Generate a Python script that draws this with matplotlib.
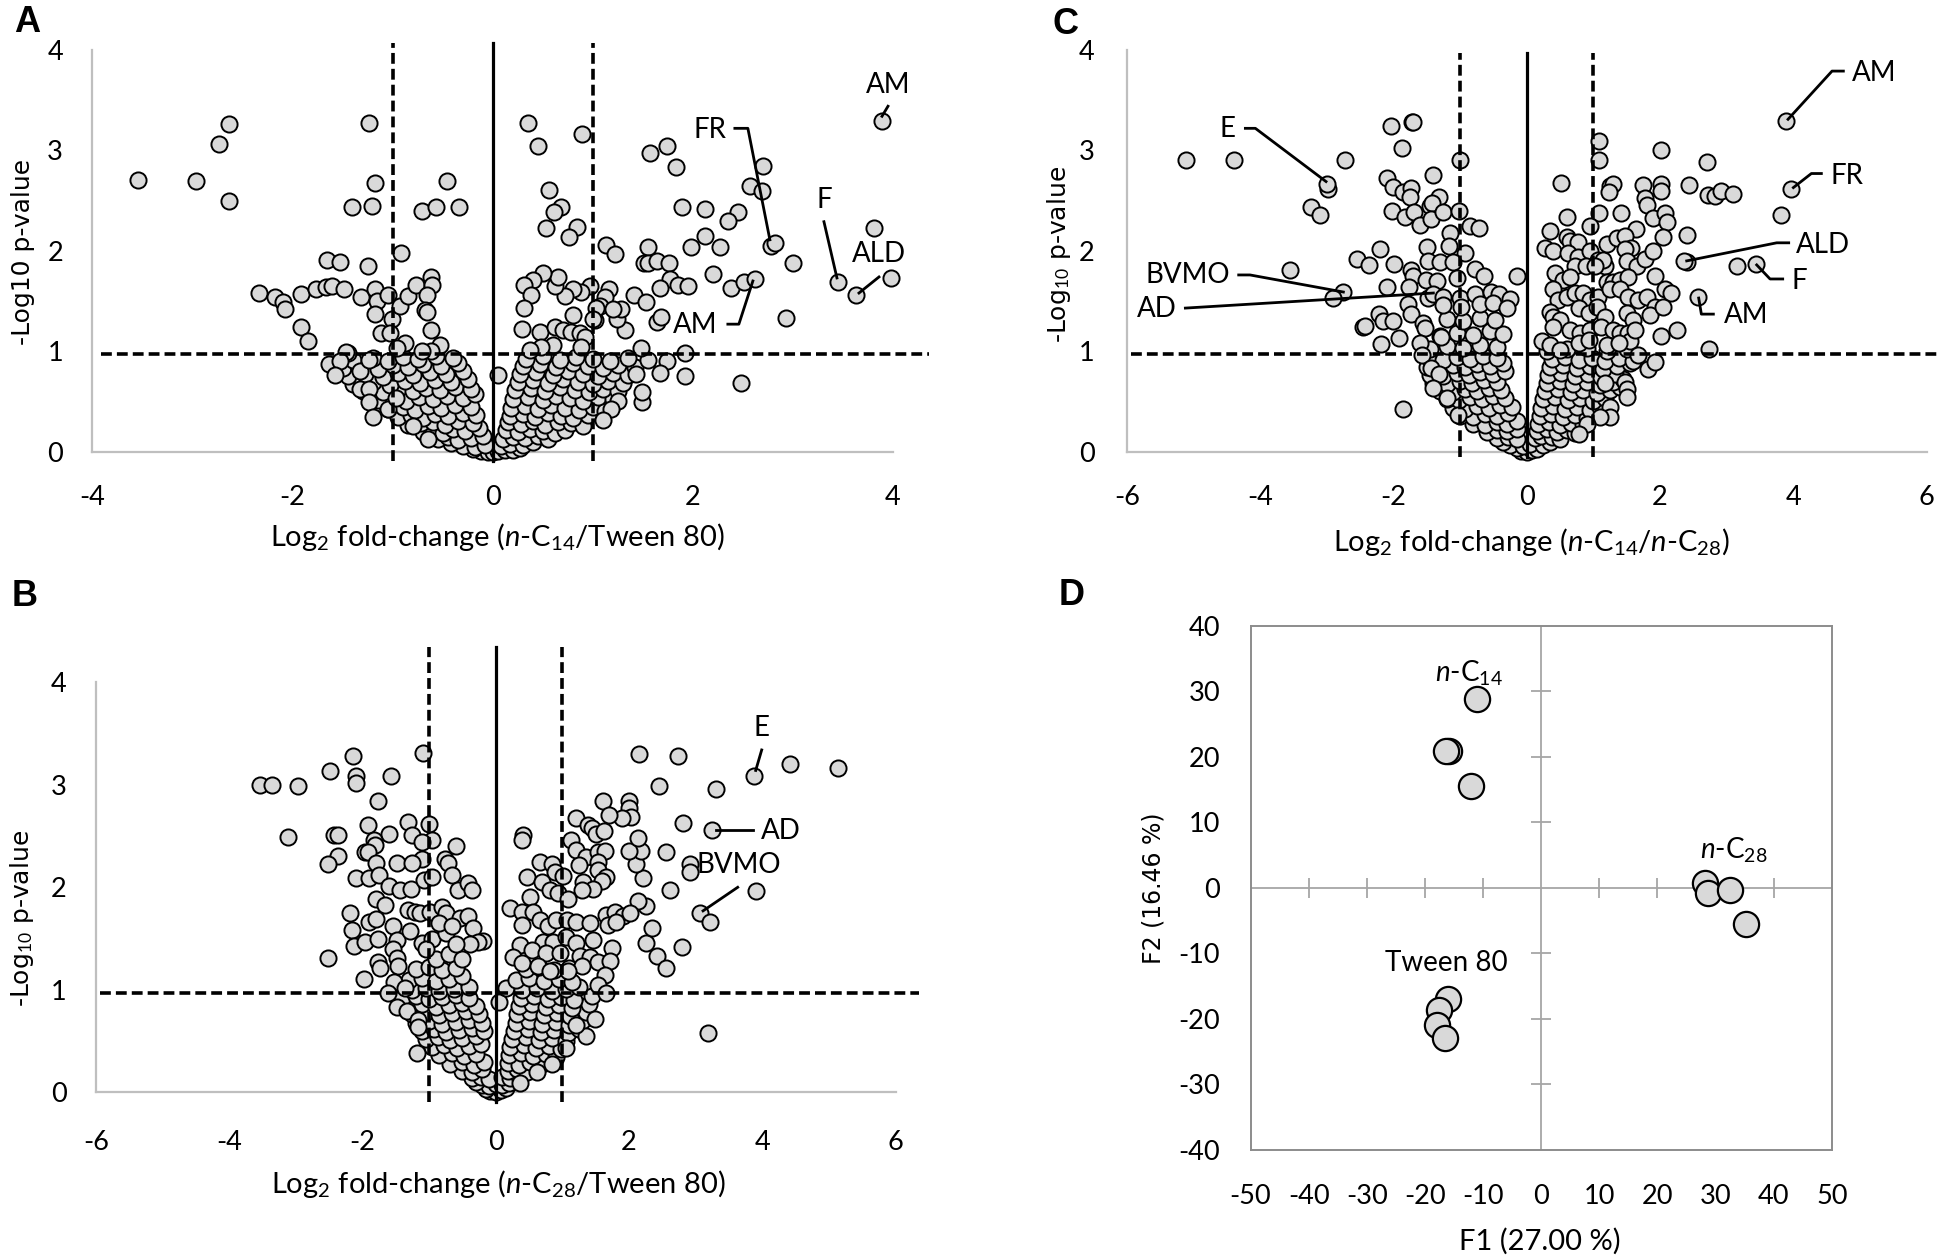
import numpy as np
import matplotlib
matplotlib.use("Agg")
import matplotlib.pyplot as plt

plt.rcParams["font.family"] = ["Lato", "DejaVu Sans"]
plt.rcParams["mathtext.fontset"] = "custom"
plt.rcParams["mathtext.rm"] = "Lato"
plt.rcParams["mathtext.it"] = "Lato:italic"
plt.rcParams["mathtext.bf"] = "Lato:bold"
plt.rcParams["axes.unicode_minus"] = False

# ---------------- panel A : n-C14 / Tween 80 ----------------
a_outer = [
    (-3.54, 2.71), (-2.96, 2.70), (-2.63, 3.26), (-2.73, 3.06), (-2.63, 2.50),
    (-1.24, 3.27), (-1.18, 2.68), (-1.41, 2.44), (-1.21, 2.45), (-0.46, 2.70),
    (-0.71, 2.40), (-0.57, 2.44), (-0.34, 2.44), (-0.92, 1.98), (-1.66, 1.91),
    (-1.53, 1.89), (-1.25, 1.85), (-2.33, 1.58), (-2.17, 1.54), (-2.09, 1.49),
    (-2.07, 1.42), (-1.91, 1.57), (-1.76, 1.62), (-1.67, 1.64), (-1.61, 1.65),
    (-1.49, 1.62), (-1.32, 1.54), (-1.18, 1.62), (-1.16, 1.50), (-1.18, 1.37),
    (-1.05, 1.56), (-1.01, 1.32), (-1.12, 1.18), (-1.03, 1.18), (-1.91, 1.24),
    (-1.84, 1.10), (-0.93, 1.45), (-0.85, 1.55), (-0.77, 1.66), (-0.62, 1.74),
    (-0.61, 1.66), (-0.66, 1.56), (-0.68, 1.41), (-0.66, 1.39), (-0.62, 1.21),
    (-0.88, 1.08), (-0.53, 1.06), (-1.45, 0.98), (-1.47, 0.99), (-1.64, 0.87),
    (-1.53, 0.90), (-1.58, 0.76), (-1.33, 0.80), (-1.24, 0.91), (-1.33, 0.62),
    (-1.24, 0.62), (-1.24, 0.49), (-1.20, 0.35), (-1.05, 0.43), (-0.97, 0.53),
    (-0.65, 0.13), (-0.80, 0.26), (-0.62, 1.00), (-0.71, 1.00), (-0.96, 1.03),
    (3.89, 3.29), (0.35, 3.27), (0.45, 3.04), (0.89, 3.16), (0.56, 2.61),
    (0.68, 2.44), (0.61, 2.39), (0.53, 2.23), (0.84, 2.24), (0.76, 2.14),
    (1.57, 2.97), (1.74, 3.04), (1.83, 2.83), (2.70, 2.84), (2.57, 2.65),
    (2.69, 2.60), (1.89, 2.44), (2.12, 2.42), (2.45, 2.39), (2.35, 2.30),
    (2.12, 2.15), (1.98, 2.04), (2.27, 2.04), (3.81, 2.23), (2.78, 2.05),
    (2.82, 2.08), (3.00, 1.88), (1.55, 2.04), (1.51, 1.88), (1.55, 1.88),
    (1.64, 1.90), (1.76, 1.88), (1.13, 2.06), (1.22, 1.97), (2.20, 1.77),
    (1.77, 1.72), (1.85, 1.66), (1.95, 1.65), (1.67, 1.63), (2.38, 1.63),
    (2.51, 1.69), (2.62, 1.72), (3.45, 1.69), (3.63, 1.56), (3.98, 1.73),
    (2.93, 1.33), (1.64, 1.29), (1.68, 1.34), (1.41, 1.56), (1.53, 1.49),
    (2.48, 0.68), (1.92, 0.75), (1.92, 0.98), (1.74, 0.90), (1.67, 0.78),
    (1.48, 1.03), (1.49, 0.49), (1.49, 0.59), (1.43, 0.77), (1.25, 0.50),
    (1.18, 0.43), (1.10, 0.32), (1.32, 1.21), (1.24, 1.32), (1.28, 1.42),
    (1.16, 1.62), (1.12, 1.54), (1.07, 1.45), (1.02, 1.31), (0.97, 1.65),
    (0.88, 1.59), (0.80, 1.62), (0.72, 1.55), (0.62, 1.65), (0.65, 1.74),
    (0.50, 1.78), (0.40, 1.71), (0.31, 1.66), (0.38, 1.56), (0.31, 1.43),
    (0.29, 1.22), (0.47, 1.19), (0.62, 1.24), (0.70, 1.21), (0.78, 1.19),
    (0.87, 1.18), (0.92, 1.14), (0.80, 1.36), (0.88, 1.04), (0.60, 1.06),
    (0.48, 1.04), (0.37, 1.01), (1.03, 1.43), (1.00, 1.32), (1.20, 1.42),
]
a_core = [
    (-0.12, 0.01), (-0.05, 0.0), (0.0, 0.0), (0.05, 0.01), (0.12, 0.02), (0.2, 0.02),
    (-0.2, 0.03), (0.27, 0.04),
    (-0.3, 0.06), (-0.18, 0.05), (-0.08, 0.07), (0.08, 0.06), (0.17, 0.08), (0.3, 0.07),
    (-0.42, 0.09), (0.4, 0.1),
    (-0.55, 0.13), (-0.45, 0.15), (-0.35, 0.12), (-0.22, 0.14), (-0.1, 0.16), (0.1, 0.13),
    (0.2, 0.15), (0.32, 0.14), (0.45, 0.16), (0.55, 0.13),
    (-0.7, 0.2), (-0.6, 0.22), (-0.5, 0.19), (-0.4, 0.23), (-0.28, 0.21), (-0.14, 0.24),
    (0.13, 0.22), (0.25, 0.2), (0.37, 0.23), (0.5, 0.21), (0.62, 0.19), (0.72, 0.22),
    (-0.85, 0.27), (-0.72, 0.29), (-0.6, 0.3), (-0.48, 0.27), (-0.35, 0.31), (-0.2, 0.29),
    (0.15, 0.3), (0.28, 0.28), (0.4, 0.31), (0.52, 0.27), (0.65, 0.3), (0.78, 0.29), (0.9, 0.26),
    (-0.95, 0.35), (-0.82, 0.37), (-0.7, 0.34), (-0.58, 0.38), (-0.45, 0.36), (-0.3, 0.39),
    (-0.17, 0.37), (0.17, 0.36), (0.3, 0.38), (0.42, 0.35), (0.55, 0.39), (0.68, 0.36),
    (0.8, 0.34), (0.95, 0.37),
    (-1.05, 0.43), (-0.9, 0.45), (-0.78, 0.42), (-0.65, 0.46), (-0.52, 0.44), (-0.38, 0.47),
    (-0.22, 0.45), (0.18, 0.44), (0.32, 0.46), (0.45, 0.43), (0.58, 0.47), (0.72, 0.44),
    (0.86, 0.42), (1.0, 0.45), (1.12, 0.41),
    (-1.15, 0.51), (-1.0, 0.53), (-0.87, 0.5), (-0.74, 0.54), (-0.6, 0.52), (-0.46, 0.55),
    (-0.3, 0.53), (-0.18, 0.57), (0.2, 0.52), (0.35, 0.54), (0.5, 0.51), (0.63, 0.55),
    (0.77, 0.53), (0.9, 0.5), (1.05, 0.54), (1.2, 0.52),
    (-1.3, 0.6), (-1.1, 0.59), (-0.95, 0.62), (-0.8, 0.6), (-0.67, 0.63), (-0.53, 0.61),
    (-0.38, 0.64), (-0.22, 0.62), (0.22, 0.61), (0.38, 0.63), (0.52, 0.6), (0.67, 0.64),
    (0.82, 0.61), (0.96, 0.59), (1.1, 0.62), (1.25, 0.6),
    (-1.4, 0.67), (-1.2, 0.69), (-1.03, 0.66), (-0.88, 0.7), (-0.73, 0.68), (-0.58, 0.71),
    (-0.42, 0.69), (-0.25, 0.72), (0.25, 0.69), (0.4, 0.71), (0.55, 0.68), (0.7, 0.72),
    (0.85, 0.69), (1.0, 0.67), (1.15, 0.7), (1.3, 0.68),
    (-1.45, 0.75), (-1.28, 0.77), (-1.1, 0.74), (-0.95, 0.78), (-0.8, 0.76), (-0.63, 0.79),
    (-0.47, 0.77), (-0.3, 0.8), (0.05, 0.76), (0.27, 0.77), (0.43, 0.79), (0.6, 0.76),
    (0.75, 0.8), (0.9, 0.77), (1.05, 0.75), (1.2, 0.78), (1.35, 0.76),
    (-1.5, 0.83), (-1.35, 0.85), (-1.15, 0.82), (-1.0, 0.86), (-0.85, 0.84), (-0.7, 0.87),
    (-0.52, 0.85), (-0.35, 0.88), (0.3, 0.85), (0.47, 0.87), (0.63, 0.84), (0.8, 0.88),
    (0.95, 0.85), (1.1, 0.83), (1.25, 0.86), (1.42, 0.84),
    (-1.4, 0.91), (-1.2, 0.93), (-1.05, 0.9), (-0.9, 0.94), (-0.75, 0.92), (-0.57, 0.95),
    (-0.4, 0.93), (0.33, 0.92), (0.5, 0.95), (0.67, 0.91), (0.83, 0.94), (1.0, 0.92),
    (1.17, 0.9), (1.35, 0.93), (1.55, 0.91),
]
a_labels = [
    ("AM", 3.95, 3.65, [(3.95, 3.44), (3.89, 3.34)]),
    ("FR", 2.17, 3.20, [(2.42, 3.22), (2.55, 3.22), (2.77, 2.11)]),
    ("F", 3.31, 2.51, [(3.31, 2.29), (3.44, 1.73)]),
    ("ALD", 3.86, 1.97, [(3.86, 1.74), (3.66, 1.58)]),
    ("AM", 2.02, 1.26, [(2.35, 1.27), (2.46, 1.27), (2.60, 1.70)]),
]

# ---------------- panel B : n-C28 / Tween 80 ----------------
b_outer = [
    (-3.54, 3.00), (-3.35, 3.00), (-2.96, 2.99), (-2.49, 3.13), (-2.14, 3.28),
    (-2.10, 3.09), (-2.10, 3.02), (-1.57, 3.09), (-1.09, 3.31), (-1.76, 2.84),
    (-3.11, 2.49), (-2.43, 2.51), (-2.36, 2.51), (-2.37, 2.31), (-2.52, 2.23),
    (-1.91, 2.61), (-1.31, 2.64), (-1.00, 2.62), (-0.95, 2.46), (-1.60, 2.52),
    (-1.83, 2.46), (-1.81, 2.41), (-1.96, 2.34), (-1.91, 2.34), (-1.26, 2.51),
    (-1.10, 2.44), (-1.11, 2.28), (-0.60, 2.40), (-1.48, 2.24), (-1.26, 2.24),
    (-1.80, 2.24), (-2.10, 2.09), (-1.90, 2.09), (-1.75, 2.12), (-1.60, 2.01),
    (-1.43, 1.97), (-1.27, 1.98), (-1.08, 2.07), (-0.96, 2.10), (-0.76, 2.28),
    (-0.72, 2.24), (-0.66, 2.12), (-0.57, 1.97), (-0.41, 2.04), (-0.35, 1.97),
    (-1.80, 1.89), (-1.66, 1.83), (-2.18, 1.75), (-1.90, 1.66), (-1.80, 1.69),
    (-2.16, 1.58), (-2.13, 1.43), (-1.96, 1.47), (-1.76, 1.50), (-1.54, 1.62),
    (-1.48, 1.49), (-1.28, 1.57), (-1.11, 1.46), (-1.54, 1.40), (-1.48, 1.31),
    (-2.52, 1.31), (-1.97, 1.11), (-1.31, 1.78), (-1.21, 1.76), (-1.14, 1.75),
    (-0.99, 1.76), (-0.81, 1.81), (-0.74, 1.75), (-0.54, 1.70), (-0.41, 1.72),
    (-0.34, 1.60), (-0.19, 1.48), (-0.26, 1.47), (-0.38, 1.45), (-1.76, 1.27),
    (-1.74, 1.21), (-1.46, 1.23), (-1.53, 1.08), (-1.36, 1.02), (-1.61, 0.97),
    (-1.48, 0.83), (-1.33, 0.79), (-1.16, 0.71), (-1.16, 0.64), (-1.18, 0.38),
    (-0.90, 1.30), (-0.70, 1.35), (-0.50, 1.30), (-0.95, 1.50), (-0.75, 1.55),
    (-0.60, 1.45), (-0.85, 1.65), (-0.65, 1.62), (-1.05, 1.40),
    (2.15, 3.30), (2.73, 3.28), (4.41, 3.20), (5.14, 3.16), (3.87, 3.09),
    (2.45, 2.99), (3.31, 2.96), (2.81, 2.63), (3.25, 2.56), (2.56, 2.34),
    (2.91, 2.23), (2.92, 2.15), (2.62, 1.97), (3.90, 1.96), (3.07, 1.75),
    (3.21, 1.66), (3.18, 0.58), (2.80, 1.42), (2.42, 1.33), (2.55, 1.21),
    (2.26, 1.46), (2.34, 1.60), (2.26, 1.82), (2.14, 1.87), (2.21, 2.09),
    (2.11, 2.23), (2.18, 2.35), (2.00, 2.35), (2.14, 2.48), (1.61, 2.84),
    (2.00, 2.84), (2.00, 2.77), (2.03, 2.69), (1.89, 2.68), (1.70, 2.71),
    (1.20, 2.68), (1.39, 2.61), (1.45, 2.58), (1.51, 2.52), (1.63, 2.55),
    (1.13, 2.46), (1.21, 2.36), (1.35, 2.30), (1.54, 2.34), (1.64, 2.35),
    (1.25, 2.22), (1.54, 2.25), (1.54, 2.17), (1.65, 2.10), (1.59, 2.06),
    (1.31, 2.05), (1.46, 1.98), (1.29, 1.97), (0.41, 2.51), (0.39, 2.46),
    (0.66, 2.25), (0.84, 2.23), (0.89, 2.15), (1.01, 2.11), (0.47, 2.10),
    (0.69, 2.05), (0.81, 1.97), (0.51, 1.91), (0.94, 1.94), (1.09, 1.89),
    (0.21, 1.80), (0.39, 1.76), (0.39, 1.63), (0.56, 1.76), (0.66, 1.68),
    (0.79, 1.62), (0.91, 1.68), (1.07, 1.68), (1.21, 1.66), (1.41, 1.65),
    (1.66, 1.73), (1.79, 1.76), (1.91, 1.72), (2.01, 1.75), (1.69, 1.63),
    (1.81, 1.66), (0.71, 1.47), (0.86, 1.47), (1.06, 1.52), (1.21, 1.46),
    (1.46, 1.49), (1.74, 1.41), (0.36, 1.44), (0.54, 1.39), (0.76, 1.36),
    (0.96, 1.36), (1.26, 1.33), (1.41, 1.32), (1.54, 1.27), (1.71, 1.28),
    (1.29, 1.23), (0.26, 1.32), (0.39, 1.26), (0.64, 1.23), (0.81, 1.18),
    (1.09, 1.18), (1.64, 1.14), (1.54, 1.05), (1.66, 0.97), (1.49, 0.72),
    (1.36, 0.55), (1.21, 0.66), (1.06, 0.43), (0.84, 0.28), (0.62, 0.20),
    (0.37, 0.09),
]
b_core = [
    (-0.08, 0.01), (0.0, 0.0), (0.08, 0.02), (-0.15, 0.03), (0.15, 0.04),
    (-0.2, 0.07), (-0.1, 0.06), (0.0, 0.08), (0.1, 0.07), (0.2, 0.09), (-0.3, 0.1),
    (-0.35, 0.14), (-0.22, 0.15), (-0.1, 0.13), (0.1, 0.15), (0.22, 0.14), (0.35, 0.16),
    (-0.5, 0.21), (-0.35, 0.2), (-0.2, 0.23), (0.18, 0.21), (0.32, 0.23), (0.47, 0.2),
    (-0.68, 0.28), (-0.5, 0.3), (-0.33, 0.27), (-0.18, 0.3), (0.18, 0.29), (0.35, 0.27),
    (0.52, 0.3), (0.7, 0.28),
    (-0.85, 0.36), (-0.65, 0.38), (-0.47, 0.35), (-0.3, 0.37), (0.2, 0.36), (0.38, 0.38),
    (0.56, 0.35), (0.75, 0.37), (0.9, 0.34),
    (-0.95, 0.44), (-0.77, 0.46), (-0.58, 0.43), (-0.4, 0.45), (-0.22, 0.47), (0.22, 0.44),
    (0.42, 0.46), (0.6, 0.43), (0.8, 0.45), (0.98, 0.42),
    (-1.05, 0.52), (-0.87, 0.54), (-0.68, 0.51), (-0.5, 0.53), (-0.3, 0.55), (0.25, 0.52),
    (0.45, 0.54), (0.65, 0.51), (0.85, 0.53), (1.05, 0.5),
    (-1.1, 0.6), (-0.92, 0.62), (-0.74, 0.59), (-0.55, 0.61), (-0.36, 0.63), (-0.18, 0.6),
    (0.27, 0.6), (0.48, 0.62), (0.68, 0.59), (0.88, 0.61), (1.08, 0.58), (1.25, 0.62),
    (-1.2, 0.68), (-1.0, 0.7), (-0.8, 0.67), (-0.6, 0.69), (-0.4, 0.71), (-0.2, 0.68),
    (0.3, 0.68), (0.5, 0.7), (0.7, 0.67), (0.9, 0.69), (1.1, 0.66), (1.3, 0.7),
    (-1.25, 0.76), (-1.05, 0.78), (-0.85, 0.75), (-0.65, 0.77), (-0.45, 0.79), (-0.25, 0.76),
    (0.32, 0.76), (0.52, 0.78), (0.72, 0.75), (0.92, 0.77), (1.12, 0.74), (1.35, 0.78),
    (-1.3, 0.84), (-1.1, 0.86), (-0.9, 0.83), (-0.7, 0.85), (-0.5, 0.87), (-0.3, 0.84),
    (0.05, 0.88), (0.35, 0.84), (0.55, 0.86), (0.75, 0.83), (0.95, 0.85), (1.15, 0.82),
    (1.4, 0.86),
    (-1.4, 0.92), (-1.2, 0.94), (-1.0, 0.91), (-0.8, 0.93), (-0.6, 0.95), (-0.4, 0.92),
    (0.38, 0.92), (0.58, 0.94), (0.78, 0.91), (0.98, 0.93), (1.18, 0.9), (1.45, 0.94),
    (-1.25, 1.0), (-1.05, 1.02), (-0.85, 0.99), (-0.62, 1.01), (-0.4, 1.03), (0.15, 1.02),
    (0.4, 1.0), (0.62, 1.02), (0.85, 0.99), (1.05, 1.01), (1.25, 1.03),
    (-1.3, 1.1), (-1.1, 1.12), (-0.9, 1.09), (-0.7, 1.11), (-0.5, 1.13), (0.3, 1.1),
    (0.5, 1.12), (0.72, 1.09), (0.95, 1.11), (1.15, 1.08),
    (-1.2, 1.2), (-1.0, 1.22), (-0.8, 1.19), (-0.6, 1.21), (0.45, 1.2), (0.65, 1.22),
    (0.88, 1.19), (1.1, 1.21),
]
b_labels = [
    ("E", 3.99, 3.55, [(3.99, 3.34), (3.90, 3.14)]),
    ("AD", 4.28, 2.55, [(3.86, 2.56), (3.30, 2.56)]),
    ("BVMO", 3.64, 2.22, [(3.63, 2.00), (3.11, 1.77)]),
]

# ---------------- panel C : n-C14 / n-C28 ----------------
c_outer = [
    (-5.11, 2.90), (-4.39, 2.90), (-2.72, 2.90), (-2.98, 2.62), (-2.99, 2.67),
    (-3.23, 2.44), (-3.10, 2.36), (-3.55, 1.81), (-2.75, 1.59), (-2.91, 1.53),
    (-2.04, 3.24), (-1.72, 3.28), (-1.70, 3.28), (-1.87, 3.02), (-1.00, 2.90),
    (-1.41, 2.76), (-2.09, 2.73), (-2.00, 2.64), (-1.86, 2.59), (-1.73, 2.63),
    (-1.75, 2.54), (-1.32, 2.54), (-1.45, 2.45), (-1.42, 2.48), (-2.02, 2.40),
    (-1.82, 2.34), (-1.69, 2.39), (-1.60, 2.26), (-1.43, 2.32), (-1.26, 2.39),
    (-1.01, 2.40), (-0.85, 2.25), (-0.72, 2.23), (-1.15, 2.18), (-1.17, 2.05),
    (-1.50, 2.04), (-0.93, 1.98), (-2.20, 2.02), (-2.54, 1.92), (-2.36, 1.86),
    (-1.99, 1.87), (-1.48, 1.90), (-1.30, 1.89), (-1.10, 1.89), (-1.73, 1.81),
    (-1.70, 1.75), (-1.51, 1.71), (-1.35, 1.70), (-1.04, 1.73), (-0.78, 1.82),
    (-0.64, 1.75), (-0.14, 1.75), (-2.09, 1.64), (-1.77, 1.64), (-1.48, 1.53),
    (-1.40, 1.57), (-1.25, 1.54), (-1.00, 1.53), (-0.78, 1.57), (-0.53, 1.59),
    (-0.41, 1.57), (-0.25, 1.52), (-1.78, 1.47), (-1.25, 1.46), (-0.98, 1.44),
    (-0.70, 1.47), (-0.50, 1.48), (-0.30, 1.43), (-2.22, 1.37), (-2.15, 1.30),
    (-2.00, 1.30), (-2.45, 1.24), (-2.42, 1.25), (-1.73, 1.37), (-1.55, 1.28),
    (-1.52, 1.23), (-2.19, 1.07), (-1.91, 1.13), (-1.60, 1.08), (-1.28, 1.14),
    (-1.57, 0.96), (-1.44, 0.83), (-1.32, 0.77), (-1.40, 0.63), (-1.20, 0.53),
    (-1.03, 0.37), (-1.86, 0.43),
    (3.89, 3.29), (3.97, 2.62), (3.81, 2.36), (2.40, 1.89), (2.36, 1.90),
    (3.16, 1.85), (3.44, 1.87), (2.57, 1.54), (2.74, 1.02), (1.09, 3.09),
    (1.09, 2.90), (2.02, 3.00), (2.70, 2.88), (0.51, 2.68), (1.25, 2.65),
    (1.30, 2.67), (1.23, 2.59), (1.75, 2.66), (2.02, 2.67), (2.02, 2.60),
    (2.43, 2.66), (2.72, 2.56), (2.83, 2.55), (2.91, 2.60), (3.10, 2.57),
    (1.77, 2.53), (1.80, 2.46), (1.42, 2.38), (1.09, 2.38), (0.61, 2.34),
    (1.90, 2.33), (2.07, 2.38), (2.11, 2.29), (0.95, 2.25), (0.35, 2.20),
    (1.64, 2.22), (2.04, 2.14), (2.40, 2.16), (0.60, 2.14), (0.65, 2.10),
    (0.77, 2.09), (0.28, 2.03), (0.39, 2.00), (0.62, 1.98), (0.77, 1.94),
    (0.95, 2.00), (1.07, 1.91), (1.17, 1.85), (1.15, 1.91), (1.20, 2.07),
    (1.35, 2.13), (1.47, 2.15), (1.57, 2.03), (1.47, 2.02), (1.50, 1.90),
    (1.66, 1.85), (1.78, 1.92), (1.89, 2.00), (0.72, 1.85), (0.89, 1.85),
    (1.02, 1.85), (0.43, 1.78), (0.55, 1.71), (0.65, 1.74), (0.40, 1.62),
    (0.47, 1.51), (0.60, 1.54), (0.72, 1.58), (0.85, 1.58), (0.95, 1.51),
    (1.07, 1.54), (1.20, 1.69), (1.30, 1.69), (1.40, 1.71), (1.52, 1.74),
    (1.25, 1.62), (1.40, 1.62), (1.52, 1.54), (1.67, 1.51), (1.80, 1.54),
    (1.92, 1.75), (1.92, 1.44), (2.07, 1.62), (2.17, 1.58), (0.35, 1.39),
    (0.40, 1.34), (0.50, 1.31), (0.78, 1.43), (0.93, 1.38), (1.05, 1.44),
    (1.17, 1.34), (1.50, 1.38), (1.60, 1.31), (1.85, 1.36), (2.05, 1.44),
    (2.25, 1.21), (2.02, 1.15), (0.40, 1.24), (0.65, 1.21), (0.80, 1.18),
    (0.95, 1.21), (1.12, 1.24), (1.30, 1.21), (1.40, 1.18), (1.52, 1.18),
    (1.55, 1.10), (1.62, 1.21), (0.23, 1.10), (0.35, 1.06), (0.50, 1.01),
    (0.78, 1.08), (0.93, 1.11), (1.20, 1.06), (1.38, 1.08), (1.67, 0.96),
    (1.82, 0.82), (1.92, 0.89), (1.48, 0.69), (1.50, 0.62), (1.50, 0.54),
    (1.25, 0.45), (1.25, 0.35), (1.10, 0.35), (0.90, 0.28), (0.78, 0.18),
    (1.17, 0.68),
]
c_core = [
    (-0.08, 0.01), (0.0, 0.0), (0.08, 0.02), (0.15, 0.03), (-0.15, 0.04),
    (-0.25, 0.07), (-0.05, 0.06), (0.05, 0.08), (0.25, 0.07), (0.35, 0.1), (-0.35, 0.1),
    (-0.45, 0.14), (-0.28, 0.15), (-0.15, 0.13), (0.12, 0.14), (0.22, 0.16), (0.38, 0.15),
    (0.5, 0.13),
    (-0.6, 0.2), (-0.45, 0.22), (-0.3, 0.21), (-0.15, 0.23), (0.15, 0.21), (0.3, 0.23),
    (0.45, 0.2), (0.6, 0.22), (0.72, 0.19),
    (-0.8, 0.28), (-0.62, 0.27), (-0.45, 0.3), (-0.3, 0.28), (-0.15, 0.31), (0.17, 0.28),
    (0.33, 0.3), (0.5, 0.27), (0.66, 0.29), (0.85, 0.28),
    (-1.0, 0.36), (-0.8, 0.35), (-0.62, 0.38), (-0.45, 0.36), (-0.28, 0.39), (0.2, 0.36),
    (0.37, 0.38), (0.55, 0.35), (0.72, 0.37), (0.9, 0.34),
    (-1.1, 0.44), (-0.92, 0.43), (-0.75, 0.46), (-0.57, 0.44), (-0.4, 0.47), (-0.22, 0.45),
    (0.22, 0.44), (0.4, 0.46), (0.58, 0.43), (0.76, 0.45), (0.95, 0.42), (1.1, 0.45),
    (-1.2, 0.52), (-1.02, 0.51), (-0.85, 0.54), (-0.67, 0.52), (-0.5, 0.55), (-0.32, 0.53),
    (0.25, 0.52), (0.43, 0.54), (0.62, 0.51), (0.8, 0.53), (1.0, 0.5), (1.18, 0.53),
    (-1.3, 0.6), (-1.1, 0.59), (-0.92, 0.62), (-0.74, 0.6), (-0.56, 0.63), (-0.38, 0.61),
    (0.28, 0.6), (0.47, 0.62), (0.66, 0.59), (0.85, 0.61), (1.05, 0.58), (1.25, 0.61),
    (1.4, 0.64),
    (-1.4, 0.68), (-1.2, 0.67), (-1.0, 0.7), (-0.82, 0.68), (-0.64, 0.71), (-0.45, 0.69),
    (0.3, 0.68), (0.5, 0.7), (0.7, 0.67), (0.9, 0.69), (1.1, 0.66), (1.3, 0.69), (1.45, 0.72),
    (-1.45, 0.76), (-1.25, 0.75), (-1.05, 0.78), (-0.87, 0.76), (-0.7, 0.79), (-0.5, 0.77),
    (-0.32, 0.8), (0.32, 0.76), (0.52, 0.78), (0.72, 0.75), (0.92, 0.77), (1.12, 0.74),
    (1.32, 0.77),
    (-1.5, 0.84), (-1.3, 0.83), (-1.1, 0.86), (-0.92, 0.84), (-0.74, 0.87), (-0.55, 0.85),
    (-0.36, 0.88), (0.35, 0.84), (0.55, 0.86), (0.75, 0.83), (0.95, 0.85), (1.15, 0.82),
    (1.35, 0.85), (1.55, 0.88),
    (-1.45, 0.92), (-1.25, 0.91), (-1.05, 0.94), (-0.85, 0.92), (-0.65, 0.95), (-0.45, 0.93),
    (0.38, 0.92), (0.58, 0.94), (0.78, 0.91), (0.98, 0.93), (1.18, 0.9), (1.38, 0.93),
    (1.6, 0.9),
    (-1.45, 1.02), (-1.2, 1.05), (-0.95, 1.03), (-0.7, 1.06), (-0.45, 1.04), (-1.3, 1.15),
    (-1.05, 1.18), (-0.8, 1.16), (-0.55, 1.2), (-0.35, 1.17), (-1.2, 1.32), (-0.95, 1.3),
    (-0.7, 1.33), (-0.48, 1.31), (0.3, 1.0), (0.6, 1.02), (0.9, 1.03), (1.2, 1.0), (1.5, 1.02),
]
c_labels = [
    ("E", -4.49, 3.21, [(-4.22, 3.22), (-4.07, 3.22), (-3.01, 2.69)]),
    ("BVMO", -5.09, 1.76, [(-4.32, 1.76), (-4.15, 1.76), (-2.75, 1.59)]),
    ("AD", -5.55, 1.42, [(-5.12, 1.43), (-1.40, 1.58)]),
    ("AM", 5.21, 3.77, [(4.75, 3.79), (4.58, 3.79), (3.92, 3.31)]),
    ("FR", 4.80, 2.75, [(4.42, 2.77), (4.27, 2.77), (4.0, 2.63)]),
    ("ALD", 4.44, 2.06, [(3.93, 2.08), (3.75, 2.08), (2.40, 1.90)]),
    ("F", 4.09, 1.70, [(3.84, 1.72), (3.65, 1.72), (3.45, 1.86)]),
    ("AM", 3.29, 1.36, [(2.80, 1.37), (2.62, 1.37), (2.58, 1.53)]),
]

# ---------------- panel D : PCA scores ----------------
d_c14_x = [-11.1, -15.8, -16.3, -12.0]
d_c14_y = [28.8, 20.8, 20.8, 15.5]
d_c28_x = [28.2, 28.7, 32.5, 35.2]
d_c28_y = [0.7, -0.8, -0.3, -5.5]
d_tw_x = [-16.1, -17.6, -17.9, -16.5]
d_tw_y = [-17.0, -18.7, -21.0, -22.9]

FACE = "#d9d9d9"
AXIS_GREY = "#bfbfbf"
TICK_FS = 19.5
LAB_FS = 21
YLAB_FS = 18
DASH = (3.0, 1.4)

fig = plt.figure(figsize=(19.44, 12.58), dpi=100)


def volcano(rect, outer, core, labels, xmin, xticks, vline_span, hline_span, xpad, ypad):
    ax = fig.add_axes(rect)
    ax.set_xlim(xmin, -xmin)
    ax.set_ylim(0, 4)
    for s in ax.spines.values():
        s.set_visible(False)
    ax.set_xticks(xticks)
    ax.set_yticks([0, 1, 2, 3, 4])
    ax.tick_params(length=0, labelsize=TICK_FS)
    ax.tick_params(axis="x", pad=xpad)
    ax.tick_params(axis="y", pad=ypad)
    # excel style axis lines
    ax.plot([xmin, -xmin], [0, 0], color=AXIS_GREY, lw=1.6, zorder=1, clip_on=False)
    ax.plot([xmin, xmin], [0, 4], color=AXIS_GREY, lw=1.6, zorder=1, clip_on=False)

    pts = np.array(core + outer)
    ax.scatter(pts[:, 0], pts[:, 1], s=135, c=FACE, edgecolors="black",
               linewidths=1.4, zorder=2, clip_on=False)

    y0, y1 = vline_span
    ax.plot([-1, -1], [y0, y1], color="black", lw=2.6, ls=(0, DASH), zorder=3, clip_on=False)
    ax.plot([1, 1], [y0, y1], color="black", lw=2.6, ls=(0, DASH), zorder=3, clip_on=False)
    ax.plot([0, 0], [y0, y1], color="black", lw=2.3, zorder=3, clip_on=False)
    ax.plot(hline_span, [0.97, 0.97], color="black", lw=2.6, ls=(0, DASH), zorder=3,
            clip_on=False)

    for txt, tx, ty, path in labels:
        ax.text(tx, ty, txt, fontsize=20, ha="center", va="center", zorder=4)
        px, py = zip(*path)
        ax.plot(px, py, color="black", lw=2.0, zorder=4, clip_on=False)
    return ax


W, H = 1944.0, 1258.0

# A
volcano([92.3 / W, 1 - 451.7 / H, 800.7 / W, 401.7 / H], a_outer, a_core, a_labels,
        -4, [-4, -2, 0, 2, 4], (-0.09, 4.07), [-3.91, 4.36], 24, 21)
# C
volcano([1126.7 / W, 1 - 451.7 / H, 800.0 / W, 401.7 / H], c_outer, c_core, c_labels,
        -6, [-6, -4, -2, 0, 2, 4, 6], (-0.05, 3.97), [-5.94, 6.21], 24, 23)
# B
volcano([95.7 / W, 1 - 1092.3 / H, 800.0 / W, 410.0 / H], b_outer, b_core, b_labels,
        -6, [-6, -4, -2, 0, 2, 4, 6], (-0.09, 4.34), [-5.94, 6.35], 27, 21)

# D
axd = fig.add_axes([1250.5 / W, 1 - 1149.6 / H, 581.3 / W, 523.9 / H])
axd.set_xlim(-50, 50)
axd.set_ylim(-40, 40)
for s in axd.spines.values():
    s.set_color("#8c8c8c")
    s.set_linewidth(1.4)
axd.set_xticks(range(-50, 51, 10))
axd.set_yticks(range(-40, 41, 10))
axd.tick_params(length=0, labelsize=TICK_FS)
axd.tick_params(axis="x", pad=25)
axd.tick_params(axis="y", pad=22)
axd.axhline(0, color="#a6a6a6", lw=1.3, zorder=1)
axd.axvline(0, color="#a6a6a6", lw=1.3, zorder=1)
inner_x = [v for v in range(-40, 41, 10) if v != 0]
inner_y = [v for v in range(-30, 31, 10) if v != 0]
axd.plot(inner_x, [0] * len(inner_x), ls="none", marker="|", ms=14, mew=1.3,
         color="#a6a6a6", zorder=1)
axd.plot([0] * len(inner_y), inner_y, ls="none", marker="_", ms=14, mew=1.3,
         color="#a6a6a6", zorder=1)
for xs, ys in [(d_c14_x, d_c14_y), (d_c28_x, d_c28_y), (d_tw_x, d_tw_y)]:
    axd.scatter(xs, ys, s=330, c=FACE, edgecolors="black", linewidths=1.6, zorder=3)
axd.text(-12.5, 32.8, r"$\mathit{n}$-C$_{14}$", fontsize=20, ha="center", va="center")
axd.text(33.2, 5.7, r"$\mathit{n}$-C$_{28}$", fontsize=20, ha="center", va="center")
axd.text(-16.3, -11.5, "Tween 80", fontsize=20, ha="center", va="center")

# axis titles
fig.text(497 / W, 1 - 537 / H, r"Log$_2$ fold-change ($\mathit{n}$-C$_{14}$/Tween 80)",
         fontsize=LAB_FS, ha="center", va="center")
fig.text(1531 / W, 1 - 542 / H, r"Log$_2$ fold-change ($\mathit{n}$-C$_{14}$/$\mathit{n}$-C$_{28}$)",
         fontsize=LAB_FS, ha="center", va="center")
fig.text(498 / W, 1 - 1184 / H, r"Log$_2$ fold-change ($\mathit{n}$-C$_{28}$/Tween 80)",
         fontsize=LAB_FS, ha="center", va="center")
fig.text(1540 / W, 1 - 1241 / H, "F1 (27.00 %)", fontsize=LAB_FS, ha="center", va="center")

fig.text(23 / W, 1 - 252 / H, "-Log10 p-value", fontsize=YLAB_FS, family="DejaVu Sans",
         rotation=90, ha="center", va="center")
fig.text(1059 / W, 1 - 254 / H, r"-Log$_{10}$ p-value", fontsize=YLAB_FS,
         family="DejaVu Sans", rotation=90, ha="center", va="center")
fig.text(22 / W, 1 - 918 / H, r"-Log$_{10}$ p-value", fontsize=YLAB_FS,
         family="DejaVu Sans", rotation=90, ha="center", va="center")
fig.text(1153 / W, 1 - 888 / H, "F2 (16.46 %)", fontsize=17, family="DejaVu Sans",
         rotation=90, ha="center", va="center")

# panel letters
for letter, lx, ly in [("A", 27, 23), ("C", 1065, 24), ("B", 25, 597), ("D", 1072, 595)]:
    fig.text(lx / W, 1 - ly / H, letter, fontsize=26, fontweight="bold",
             family="Liberation Sans", ha="center", va="center")

fig.savefig("out.png", dpi=100, facecolor="white")
